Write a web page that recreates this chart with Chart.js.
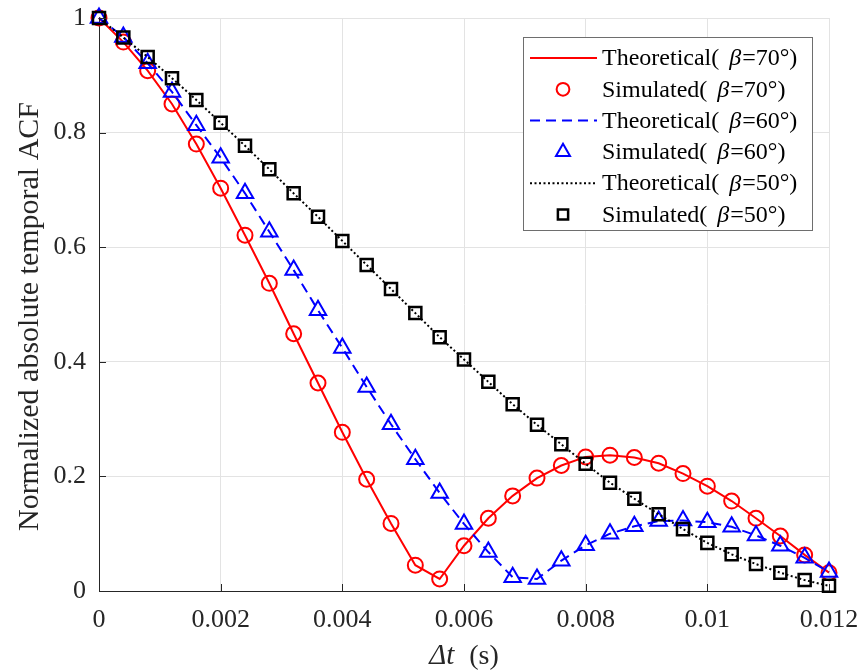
<!DOCTYPE html>
<html>
<head>
<meta charset="utf-8">
<script src="https://cdn.jsdelivr.net/npm/chart.js@4.4.1/dist/chart.umd.min.js"></script>
<style>
  html, body { margin: 0; padding: 0; background: #fff; }
  #wrap { width: 859px; height: 670px; }
</style>
</head>
<body>
<div id="wrap"><canvas id="acfChart"></canvas></div>
<script>
// time lags (s), one marker every 0.0004 s
const dt = [0, 0.0004, 0.0008, 0.0012, 0.0016, 0.002, 0.0024, 0.0028, 0.0032, 0.0036, 0.004,
  0.0044, 0.0048, 0.0052, 0.0056, 0.006, 0.0064, 0.0068, 0.0072, 0.0076, 0.008,
  0.0084, 0.0088, 0.0092, 0.0096, 0.01, 0.0104, 0.0108, 0.0112, 0.0116, 0.012]

// normalized |ACF|
const acf70 = [1.000, 0.958, 0.908, 0.850, 0.780, 0.703, 0.621, 0.537, 0.449, 0.363, 0.277,
  0.195, 0.118, 0.045, 0.021, 0.079, 0.127, 0.166, 0.197, 0.219, 0.234,
  0.237, 0.233, 0.223, 0.205, 0.183, 0.157, 0.127, 0.096, 0.063, 0.032]
const acf60 = [1.000, 0.967, 0.921, 0.871, 0.813, 0.756, 0.694, 0.627, 0.560, 0.490, 0.424,
  0.356, 0.291, 0.230, 0.171, 0.117, 0.068, 0.024, 0.021, 0.053, 0.080,
  0.100, 0.113, 0.122, 0.123, 0.120, 0.112, 0.097, 0.079, 0.058, 0.033]
const acf50 = [1.000, 0.966, 0.932, 0.895, 0.857, 0.817, 0.777, 0.736, 0.694, 0.653, 0.611,
  0.569, 0.527, 0.485, 0.443, 0.404, 0.365, 0.326, 0.290, 0.256, 0.222,
  0.189, 0.161, 0.134, 0.108, 0.084, 0.064, 0.047, 0.032, 0.019, 0.009]

const xTicks = [0, 0.002, 0.004, 0.006, 0.008, 0.01, 0.012]
const yTicks = [0, 0.2, 0.4, 0.6, 0.8, 1]
const angles = ["70", "60", "50"]

const SERIF = "'Liberation Serif', 'Times New Roman', serif"
const AXIS_COLOR = "#262626"

const pts = ys => dt.map((x, i) => ({ x: x, y: ys[i] }))

const lineSet = (label, ys, color, dash) => ({
  label: label,
  data: pts(ys),
  showLine: true,
  borderColor: color,
  backgroundColor: color,
  borderWidth: 2,
  borderDash: dash,
  pointRadius: 0,
  fill: false,
  clip: false
})

const markerSet = (label, ys, color, style, r, bw) => ({
  label: label,
  data: pts(ys),
  showLine: false,
  borderColor: color,
  backgroundColor: "rgba(0,0,0,0)",
  pointStyle: style,
  pointRadius: r,
  pointBorderWidth: bw,
  clip: false
})

const datasets = [
  lineSet("Theoretical( β=" + angles[0] + "°)", acf70, "#ff0000", []),
  markerSet("Simulated( β=" + angles[0] + "°)", acf70, "#ff0000", "circle", 7.5, 2),
  lineSet("Theoretical( β=" + angles[1] + "°)", acf60, "#0000ff", [10, 6]),
  markerSet("Simulated( β=" + angles[1] + "°)", acf60, "#0000ff", "triangle", 9.5, 2),
  lineSet("Theoretical( β=" + angles[2] + "°)", acf50, "#000000", [2, 2.5]),
  markerSet("Simulated( β=" + angles[2] + "°)", acf50, "#000000", "rect", 8.5, 2.5)
]
// later series are drawn on top, like the original plot order
datasets.forEach((d, i) => { d.order = datasets.length - i })

// inward tick marks on the left and bottom axes
const innerTicks = {
  id: "innerTicks",
  afterDatasetsDraw(chart) {
    const ctx = chart.ctx
    const a = chart.chartArea
    const xs = chart.scales.x
    const ys = chart.scales.y
    ctx.save()
    ctx.strokeStyle = AXIS_COLOR
    ctx.lineWidth = 1
    ctx.beginPath()
    xTicks.forEach(v => {
      const px = Math.round(xs.getPixelForValue(v)) + 0.5
      ctx.moveTo(px, a.bottom)
      ctx.lineTo(px, a.bottom - 7)
    })
    yTicks.forEach(v => {
      const py = Math.round(ys.getPixelForValue(v)) + 0.5
      ctx.moveTo(a.left, py)
      ctx.lineTo(a.left + 7, py)
    })
    ctx.stroke()
    ctx.restore()
  }
}

// axis titles with italic math parts
const axisTitles = {
  id: "axisTitles",
  afterDraw(chart) {
    const ctx = chart.ctx
    const a = chart.chartArea
    ctx.save()
    ctx.fillStyle = AXIS_COLOR
    ctx.textBaseline = "alphabetic"

    // x title: Δt (s)
    const italic = "italic 29px " + SERIF
    const plain = "28px " + SERIF
    const gap = 15
    ctx.font = italic
    const w1 = ctx.measureText("Δt").width
    ctx.font = plain
    const w2 = ctx.measureText("(s)").width
    const x0 = (a.left + a.right) / 2 - (w1 + gap + w2) / 2
    ctx.textAlign = "left"
    ctx.font = italic
    ctx.fillText("Δt", x0, 664)
    ctx.font = plain
    ctx.fillText("(s)", x0 + w1 + gap, 664)

    // y title
    ctx.translate(38, (a.top + a.bottom) / 2 + 12)
    ctx.rotate(-Math.PI / 2)
    ctx.font = "30px " + SERIF
    ctx.textAlign = "center"
    ctx.fillText("Normalized absolute temporal ACF", 0, 0)
    ctx.restore()
  }
}

// boxed legend in the upper right corner of the plot
const boxLegend = {
  id: "boxLegend",
  afterDraw(chart) {
    const ctx = chart.ctx
    const a = chart.chartArea
    const left = a.right - 306
    const top = a.top + 19
    const w = 289
    const h = 193
    ctx.save()
    ctx.fillStyle = "#fff"
    ctx.fillRect(left, top, w, h)
    ctx.strokeStyle = "#6e6e6e"
    ctx.lineWidth = 1
    ctx.strokeRect(left + 0.5, top + 0.5, w, h)

    chart.data.datasets.forEach((ds, i) => {
      const cy = top + 21 + i * 31.3
      if (ds.showLine === false) {
        ctx.fillStyle = "rgba(0,0,0,0)"
        ctx.strokeStyle = ds.borderColor
        ctx.lineWidth = ds.pointBorderWidth
        Chart.helpers.drawPoint(ctx, {
          pointStyle: ds.pointStyle,
          radius: ds.pointRadius * 0.85,
          borderWidth: ds.pointBorderWidth,
          rotation: 0
        }, left + 40, cy)
      } else {
        ctx.strokeStyle = ds.borderColor
        ctx.lineWidth = ds.borderWidth
        ctx.setLineDash(ds.borderDash)
        ctx.beginPath()
        ctx.moveTo(left + 7, cy)
        ctx.lineTo(left + 74, cy)
        ctx.stroke()
        ctx.setLineDash([])
      }

      // label text: "Theoretical( " + italic β + "=70°)"
      const parts = ds.label.split("β")
      const plain = "24px " + SERIF
      const italic = "italic 24px " + SERIF
      ctx.fillStyle = "#000"
      ctx.textAlign = "left"
      ctx.textBaseline = "middle"
      let tx = left + 79
      ctx.font = plain
      ctx.fillText(parts[0], tx, cy + 1)
      tx += ctx.measureText(parts[0]).width + 4
      ctx.font = italic
      ctx.fillText("β", tx, cy + 1)
      tx += ctx.measureText("β").width + 1
      ctx.font = plain
      ctx.fillText(parts[1], tx, cy + 1)
    })
    ctx.restore()
  }
}

const fmt = v => String(+Number(v).toFixed(4))

new Chart(document.getElementById("acfChart"), {
  type: "scatter",
  data: { datasets: datasets },
  options: {
    responsive: true,
    maintainAspectRatio: false,
    animation: false,
    layout: { padding: { top: 18, right: 30, left: 0, bottom: 0 } },
    plugins: {
      legend: { display: false },
      tooltip: { enabled: false }
    },
    scales: {
      x: {
        type: "linear",
        min: 0,
        max: 0.012,
        afterBuildTicks: s => { s.ticks = xTicks.map(v => ({ value: v })) },
        afterFit: s => {
          s.height = 79
          s.paddingLeft = 0
          s.paddingRight = 0
        },
        grid: { color: "#e3e3e3", lineWidth: 1, drawTicks: false },
        border: { display: true, color: AXIS_COLOR, width: 1 },
        ticks: {
          color: AXIS_COLOR,
          font: { family: SERIF, size: 26 },
          padding: 14,
          maxRotation: 0,
          callback: fmt
        }
      },
      y: {
        min: 0,
        max: 1,
        afterBuildTicks: s => { s.ticks = yTicks.map(v => ({ value: v })) },
        afterFit: s => {
          s.width = 99
          s.paddingTop = 0
          s.paddingBottom = 0
        },
        grid: { color: "#e3e3e3", lineWidth: 1, drawTicks: false },
        border: { display: true, color: AXIS_COLOR, width: 1 },
        ticks: {
          color: AXIS_COLOR,
          font: { family: SERIF, size: 26 },
          padding: 13,
          callback: fmt
        }
      }
    }
  },
  plugins: [innerTicks, axisTitles, boxLegend]
})
</script>
</body>
</html>
